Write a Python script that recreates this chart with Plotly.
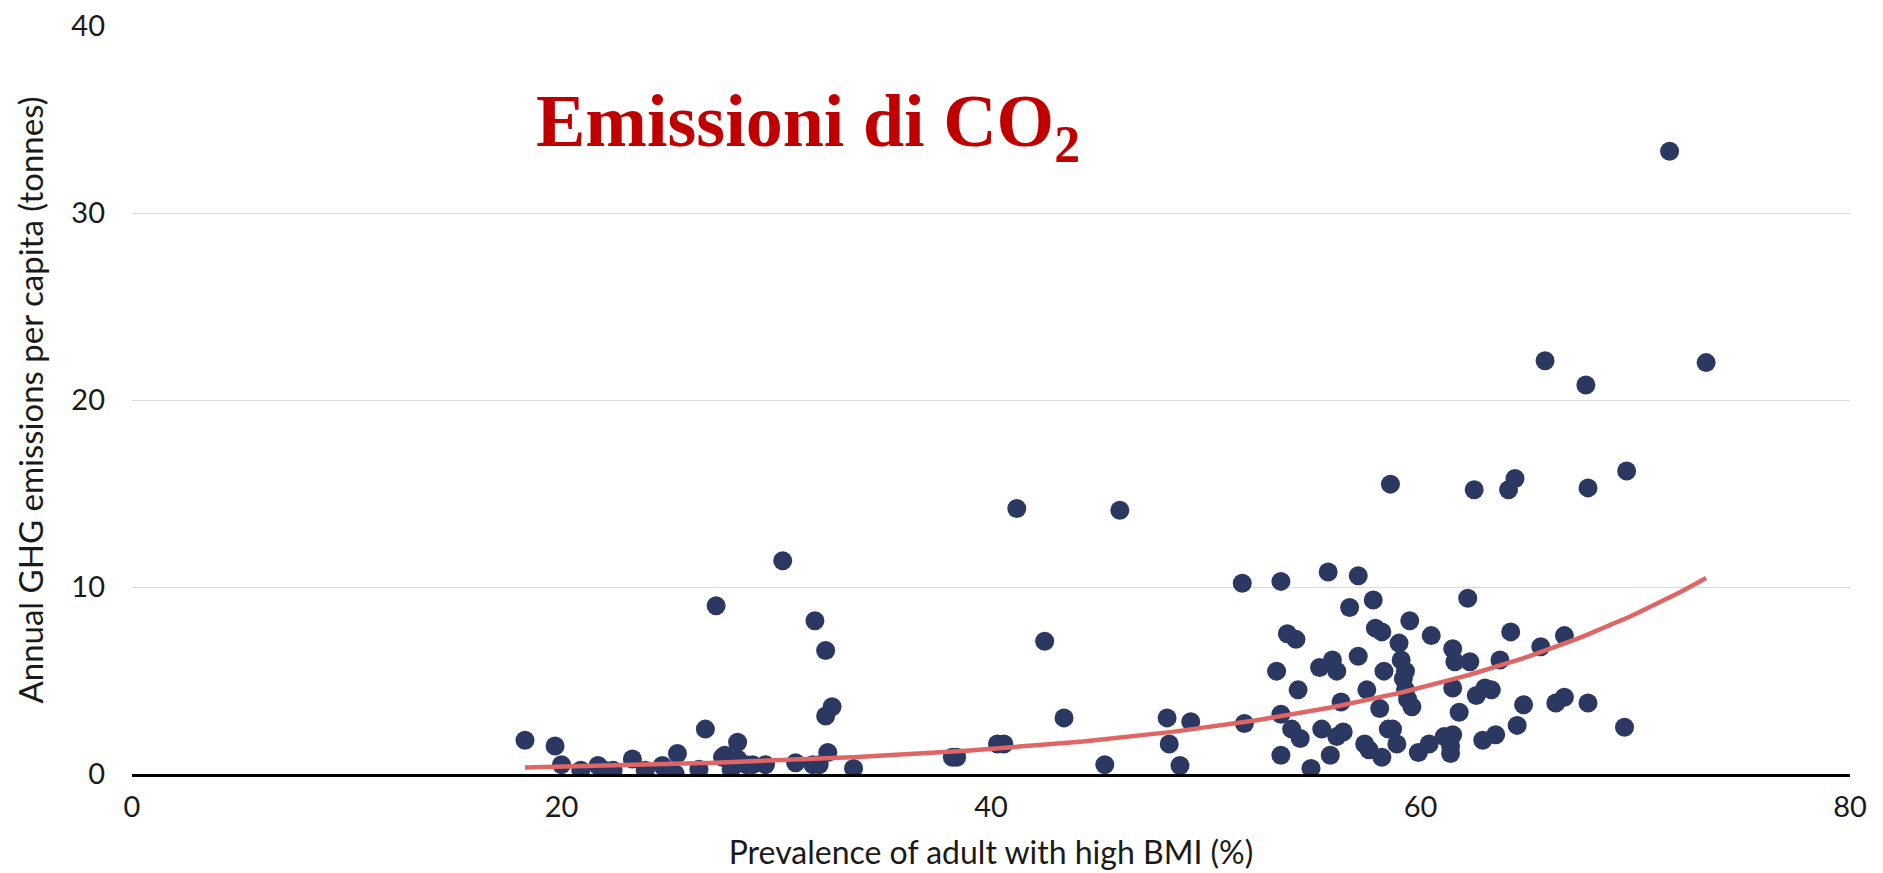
import plotly.graph_objects as go
import numpy as np

# Prevalence of adults with high BMI (%)
bmi = [
    18.3, 19.7, 20.0, 20.9, 21.7, 22.0, 22.4, 23.3, 23.9, 24.7, 25.0, 25.4, 25.3,
    26.4, 26.7, 27.2, 27.5, 27.6, 27.9, 28.2, 28.2, 28.6, 28.9, 29.5, 30.3, 30.9,
    31.7, 31.8, 32.3, 32.3, 32.6, 32.4, 32.0, 33.6,
    38.2, 38.4, 40.3, 40.6, 41.2, 42.5, 43.4, 45.3, 46.0, 48.2, 48.3, 48.8, 49.3,
    51.7, 51.8, 53.3, 53.5, 53.5, 53.5, 53.8, 54.2, 54.0, 54.3, 54.4, 54.9, 55.3,
    55.4, 55.7, 55.8, 55.9, 56.1, 56.1, 56.3, 56.4, 56.7, 57.1, 57.1, 57.5, 57.4,
    57.6, 57.8, 57.9, 58.2, 58.1, 58.2, 58.3, 58.5, 58.6, 58.7, 58.9, 59.0, 59.1,
    59.2, 59.3, 59.3, 59.4, 59.5, 59.6, 59.9, 60.4, 60.5, 61.1, 61.5, 61.6, 61.5,
    61.4, 61.4, 61.5, 61.8, 62.2, 62.3, 62.5, 62.6, 62.9, 63.0, 63.3, 63.5, 63.7,
    64.1, 64.2, 64.4, 64.5, 64.8, 65.6, 65.8, 66.3, 66.7, 66.7, 67.7, 67.8, 67.8,
    69.6, 69.5, 71.6, 73.3,
]

# Annual GHG emissions per capita (tonnes)
ghg = [
    1.8, 1.5, 0.5, 0.2, 0.45, 0.2, 0.2, 0.8, 0.2, 0.45, 0.2, 1.1, 0.0,
    0.25, 2.4, 9.0, 0.9, 1.0, 0.25, 1.7, 0.8, 0.5, 0.5, 0.5, 11.4, 0.6,
    0.5, 8.2, 6.6, 3.1, 3.6, 1.15, 0.5, 0.3,
    0.9, 0.9, 1.6, 1.6, 14.2, 7.1, 3.0, 0.5, 14.1, 3.0, 1.6, 0.45, 2.8,
    10.2, 2.7, 5.5, 10.3, 3.2, 1.0, 7.5, 7.2, 2.4, 4.5, 1.9, 0.3, 5.7,
    2.4, 10.8, 1.0, 6.1, 5.5, 2.0, 3.85, 2.25, 8.9, 10.6, 6.3, 4.5, 1.6,
    1.3, 9.3, 7.8, 7.6, 3.5, 0.9, 5.5, 2.4, 15.5, 2.4, 1.6, 7.0, 6.1,
    5.1, 5.5, 4.5, 4.0, 8.2, 3.6, 1.15, 1.6, 7.4, 2.0, 6.7, 6.0, 4.6,
    1.5, 1.1, 2.1, 3.3, 9.4, 6.0, 15.2, 4.2, 1.8, 4.6, 4.5, 2.1, 6.1,
    15.2, 7.6, 15.8, 2.6, 3.7, 6.8, 22.1, 3.8, 4.1, 7.4, 20.8, 15.3, 3.8,
    16.2, 2.5, 33.3, 22.0,
]

# Exponential trendline parameters (y = a * exp(b * x))
trend_a = 0.113
trend_b = 0.0618

x_ticks = [0, 20, 40, 60, 80]
y_ticks = [0, 10, 20, 30, 40]

tx = np.linspace(min(bmi), max(bmi), 200)
ty = trend_a * np.exp(trend_b * tx)

fig = go.Figure()
fig.add_trace(go.Scatter(
    x=bmi, y=ghg, mode="markers",
    marker=dict(color="#2b3862", size=19, line=dict(width=0)),
    showlegend=False,
))
fig.add_trace(go.Scatter(
    x=tx, y=ty, mode="lines",
    line=dict(color="#e06666", width=4.5),
    showlegend=False,
))

font_family = "Lato, 'Open Sans', sans-serif"

fig.update_layout(
    width=1883, height=873,
    margin=dict(l=132, r=33, t=26, b=99),
    paper_bgcolor="white", plot_bgcolor="white",
    font=dict(family=font_family, color="#1a1a1a"),
    xaxis=dict(
        range=[0, 80], tickvals=x_ticks, showgrid=False, zeroline=False,
        showline=True, linecolor="black", linewidth=3,
        ticks="", tickfont=dict(size=29, family=font_family, color="#1a1a1a"),
        ticklabelstandoff=5, automargin=False,
        title=dict(text="Prevalence of adult with high BMI (%)",
                   font=dict(size=32, family=font_family, color="#1a1a1a"),
                   standoff=20),
    ),
    yaxis=dict(
        range=[0, 40], tickvals=y_ticks, showgrid=True, gridcolor="#d9d9d9",
        gridwidth=1, zeroline=False, showline=False,
        ticks="", tickfont=dict(size=29, family=font_family, color="#1a1a1a"),
        ticklabelstandoff=26, automargin=False,
        title=dict(text="Annual GHG emissions per capita (tonnes)",
                   font=dict(size=33, family=font_family, color="#1a1a1a"),
                   standoff=17),
    ),
    annotations=[dict(
        text="<b>Emissioni di CO<sub>2</sub></b>",
        xref="paper", yref="paper", x=0.234, y=0.866,
        xanchor="left", yanchor="middle", showarrow=False,
        font=dict(family="'Liberation Serif', 'Times New Roman', serif",
                  size=74, color="#c00000"),
    )],
)

fig.write_html("out.html")
